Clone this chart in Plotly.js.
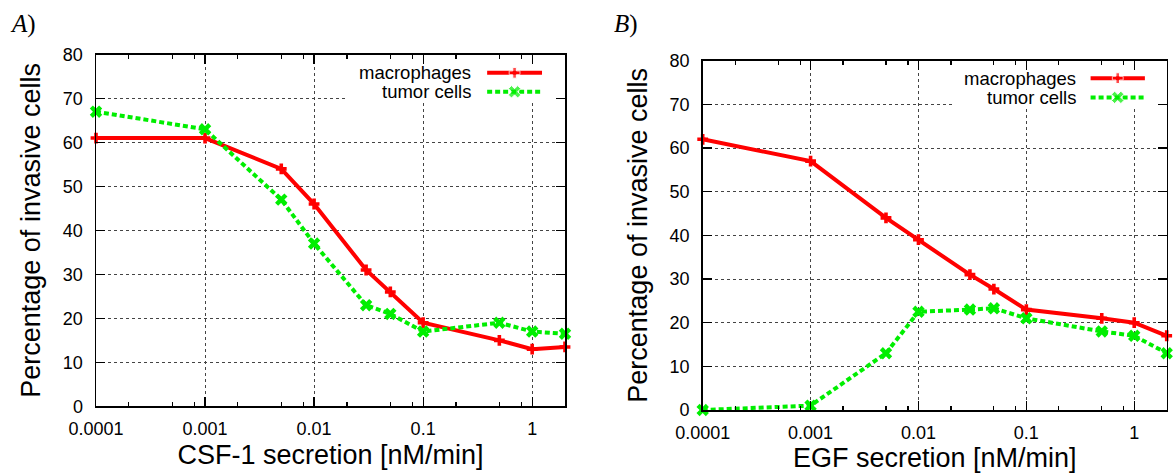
<!DOCTYPE html>
<html>
<head>
<meta charset="utf-8">
<script src="https://cdn.plot.ly/plotly-3.0.1.min.js"></script>
<style>
  html, body { margin: 0; padding: 0; background: #fff; }
  #chart { width: 1173px; height: 475px; }
</style>
</head>
<body>
<div id="chart"></div>
<script>
// ---- data ----
const secretionRates = [0.0001, 0.001, 0.005, 0.01, 0.03, 0.05, 0.1, 0.5, 1, 2];
const csfMacrophages = [61, 61, 54, 46, 31, 26, 19, 15, 13, 13.5];
const csfTumorCells  = [67, 63, 47, 37, 23, 21, 17, 19, 17, 16.5];
const egfMacrophages = [62, 57, 44, 39, 31, 27.7, 23, 21, 20, 17];
const egfTumorCells  = [0, 1, 13, 22.5, 23, 23.3, 21, 18, 17, 13];
const xTickVals   = [0.0001, 0.001, 0.01, 0.1, 1];
const xTickLabels = ["0.0001", "0.001", "0.01", "0.1", "1"];
const xMinorTicks = [0.0002, 0.0005, 0.0008, 0.002, 0.005, 0.008, 0.02, 0.05, 0.08, 0.2, 0.5, 0.8, 2];
const seriesNames = ["macrophages", "tumor cells"];
const panelLabels = ["A", "B"];
const xTitles = ["CSF-1 secretion [nM/min]", "EGF secretion [nM/min]"];
const yTitle = "Percentage of invasive cells";

// ---- styles ----
const FONT = "Liberation Sans, Arial, Helvetica, sans-serif";
const RED = "#ff0000";
const GREEN = "#00ee00";
const macStyle = {
  mode: "lines+markers",
  line: { color: RED, width: 4 },
  marker: { symbol: "cross", size: 9, color: RED },
  cliponaxis: false, showlegend: false
};
const tumStyle = {
  mode: "lines+markers",
  line: { color: GREEN, width: 4, dash: "5px,3px" },
  marker: { symbol: "x", size: 11, color: GREEN },
  cliponaxis: false, showlegend: false
};

function tr(style, x, y, xa, ya, name) {
  return Object.assign({}, style, { x: x, y: y, xaxis: xa, yaxis: ya, name: name });
}

const traces = [
  tr(macStyle, secretionRates, csfMacrophages, "x", "y", seriesNames[0]),
  tr(tumStyle, secretionRates, csfTumorCells, "x", "y", seriesNames[1]),
  tr(macStyle, secretionRates, egfMacrophages, "x2", "y2", seriesNames[0]),
  tr(tumStyle, secretionRates, egfTumorCells, "x2", "y2", seriesNames[1])
];

// legend (gnuplot-style: text left, sample right) drawn on overlay axes [0,1]
const legendPos = [
  { xa: "x3", ya: "y3", box: [0.533, 0.997, 0.871, 0.997], x0: 0.834, x1: 0.951, rows: [0.948, 0.894], tx: 0.804 },
  { xa: "x4", ya: "y4", box: [0.539, 0.997, 0.870, 0.997], x0: 0.836, x1: 0.953, rows: [0.950, 0.895], tx: 0.809 }
];
legendPos.forEach(function (p) {
  const b = p.box;
  traces.push({
    x: [b[0], b[1], b[1], b[0], b[0]], y: [b[2], b[2], b[3], b[3], b[2]],
    xaxis: p.xa, yaxis: p.ya, mode: "lines", fill: "toself",
    fillcolor: "#ffffff", line: { width: 0, color: "rgba(0,0,0,0)" },
    hoverinfo: "skip", showlegend: false
  });
  [macStyle, tumStyle].forEach(function (st, i) {
    const xm = (p.x0 + p.x1) / 2;
    const t = tr(st, [p.x0, xm, p.x1], [p.rows[i], p.rows[i], p.rows[i]], p.xa, p.ya, seriesNames[i]);
    t.marker = Object.assign({}, st.marker, { size: [0, st.marker.size, 0] });
    t.hoverinfo = "skip";
    traces.push(t);
  });
});

function xAxis(domain, anchor, title) {
  return {
    type: "log", domain: domain, anchor: anchor,
    range: [-4, Math.log10(2)],
    tickmode: "array", tickvals: xTickVals, ticktext: xTickLabels,
    ticks: "inside", ticklen: 9, tickwidth: 1.2, tickcolor: "#000",
    minor: { tickmode: "array", tickvals: xMinorTicks,
             ticks: "inside", ticklen: 4, tickwidth: 1.2, tickcolor: "#000", showgrid: false },
    showline: true, linecolor: "#000", linewidth: 1.5, mirror: "ticks",
    showgrid: true, gridcolor: "#444", griddash: "dot", gridwidth: 1,
    zeroline: false, ticklabelstandoff: 6,
    tickfont: { family: FONT, size: 18, color: "#000" },
    title: { text: title, font: { family: FONT, size: 27, color: "#000" }, standoff: 6 }
  };
}
function yAxis(domain, anchor) {
  return {
    domain: domain, anchor: anchor, range: [0, 80], dtick: 10, tick0: 0,
    ticks: "inside", ticklen: 9, tickwidth: 1.2, tickcolor: "#000",
    showline: true, linecolor: "#000", linewidth: 1.5, mirror: "ticks",
    showgrid: true, gridcolor: "#444", griddash: "dot", gridwidth: 1,
    zeroline: false, ticklabelstandoff: 8,
    tickfont: { family: FONT, size: 18, color: "#000" },
    title: { text: yTitle, font: { family: FONT, size: 27, color: "#000" }, standoff: 14 }
  };
}
function overlay(base, anchor) {
  return { overlaying: base, anchor: anchor, range: [0, 1], visible: false,
           showgrid: false, zeroline: false, fixedrange: true };
}

const annotations = [];
legendPos.forEach(function (p, k) {
  const xr = (k === 0 ? "x" : "x2") + " domain";
  const yr = (k === 0 ? "y" : "y2") + " domain";
  seriesNames.forEach(function (n, i) {
    annotations.push({ text: n, xref: xr, yref: yr, x: p.tx, y: p.rows[i],
      xanchor: "right", yanchor: "middle", showarrow: false,
      font: { family: FONT, size: 18.5, color: "#000" } });
  });
});
[8, 612].forEach(function (px, k) {
  annotations.push({ text: "<i>" + panelLabels[k] + "</i>)", xref: "paper", yref: "paper",
    x: px / 1173, y: 1 - 24 / 475, xanchor: "left", yanchor: "middle", showarrow: false,
    font: { family: "Liberation Serif, DejaVu Serif, serif", size: 25, color: "#000" } });
});

const layout = {
  width: 1173, height: 475,
  margin: { l: 0, r: 0, t: 0, b: 0 },
  paper_bgcolor: "#fff", plot_bgcolor: "#fff",
  showlegend: false,
  xaxis:  xAxis([96 / 1173, 565 / 1173], "y", xTitles[0]),
  yaxis:  yAxis([1 - 406.3 / 475, 1 - 54.5 / 475], "x"),
  xaxis2: xAxis([702.7 / 1173, 1166.7 / 1173], "y2", xTitles[1]),
  yaxis2: yAxis([1 - 410 / 475, 1 - 60.7 / 475], "x2"),
  xaxis3: overlay("x", "y3"), yaxis3: overlay("y", "x3"),
  xaxis4: overlay("x2", "y4"), yaxis4: overlay("y2", "x4"),
  annotations: annotations
};

Plotly.newPlot("chart", traces, layout, { staticPlot: true, displayModeBar: false });
</script>
</body>
</html>
